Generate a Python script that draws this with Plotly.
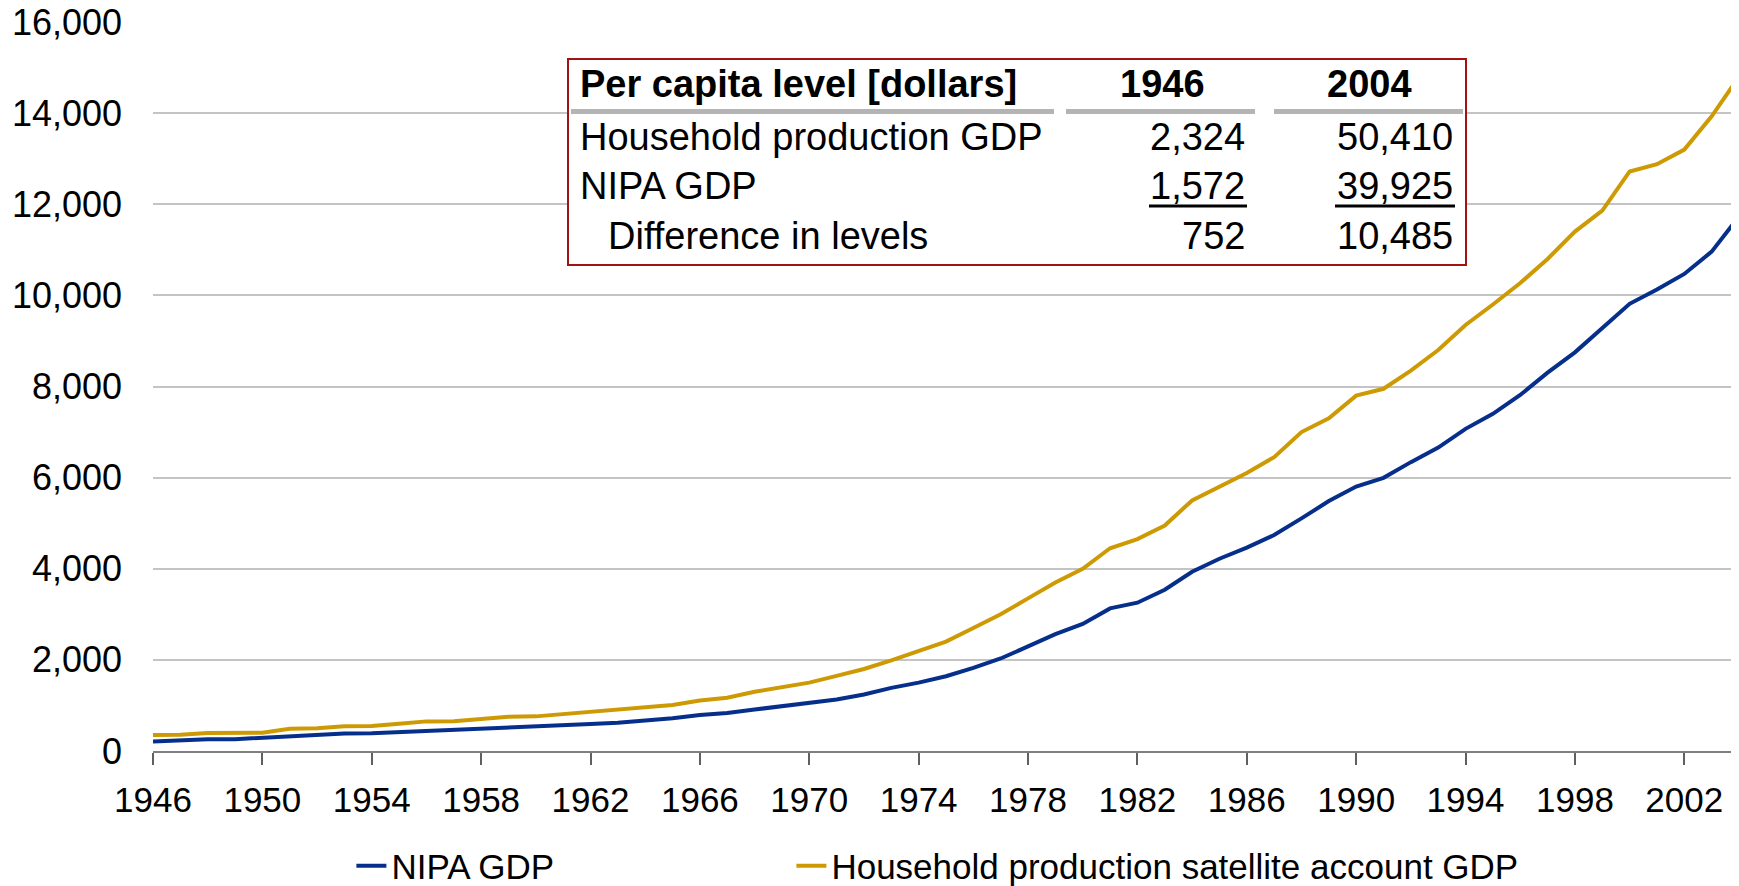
import plotly.graph_objects as go

years = list(range(1946, 2005))
nipa_gdp = [210, 245, 260, 260, 290, 340, 355, 385, 390, 415,
            440, 460, 470, 505, 530, 550, 590, 620, 665, 720,
            790, 835, 910, 985, 1040, 1130, 1240, 1385, 1500, 1640,
            1825, 2030, 2295, 2565, 2790, 3130, 3255, 3540, 3935, 4220,
            4465, 4740, 5105, 5485, 5805, 5995, 6340, 6660, 7070, 7400,
            7815, 8305, 8750, 9270, 9815, 10130, 10470, 10960, 11735]
hh_gdp = [350, 355, 395, 395, 400, 490, 500, 545, 550, 600,
          650, 655, 700, 750, 760, 810, 860, 900, 950, 1010,
          1110, 1170, 1300, 1400, 1500, 1650, 1800, 1990, 2190, 2400,
          2700, 3000, 3350, 3700, 4000, 4450, 4650, 4950, 5500, 5800,
          6100, 6450, 7000, 7300, 7800, 7950, 8350, 8800, 9350, 9800,
          10270, 10800, 11400, 11860, 12720, 12880, 13200, 13930, 14800]
series_names = ["NIPA GDP", "Household production satellite account GDP"]
x_ticks = list(range(1946, 2004, 4))

table_header = ["Per capita level [dollars]", "1946", "2004"]
table_rows = ["Household production GDP", "NIPA GDP", "Difference in levels"]
table_1946 = ["2,324", "1,572", "752"]
table_2004 = ["50,410", "39,925", "10,485"]

# page has an 8px body margin; figure sized to fit the window
OFF = 8
W, H = 1739 - OFF, 886 - OFF
ML, MR, MT, MB = 145, 0, 14, 135
PW, PH = W - ML - MR, H - MT - MB

def px(x):
    return (x - OFF - ML) / PW

def py(y):
    return (H - MB - (y - OFF)) / PH

FONT = "Liberation Sans, Arial, sans-serif"
BLUE = "#062F8C"
GOLD = "#CE9A04"

fig = go.Figure()
fig.add_trace(go.Scatter(x=years, y=nipa_gdp, mode="lines", name=series_names[0],
                         line=dict(color=BLUE, width=4), legend="legend"))
fig.add_trace(go.Scatter(x=years, y=hh_gdp, mode="lines", name=series_names[1],
                         line=dict(color=GOLD, width=4), legend="legend2"))

shapes = []
shapes.append(dict(type="rect", xref="paper", yref="paper",
                   x0=px(568), x1=px(1466), y0=py(265), y1=py(59),
                   line=dict(color="#A31212", width=2), fillcolor="white", layer="above"))
for a, b in [(571, 1054), (1066, 1255), (1274, 1463)]:
    shapes.append(dict(type="line", xref="paper", yref="paper",
                       x0=px(a), x1=px(b), y0=py(111.5), y1=py(111.5),
                       line=dict(color="#B4B4B4", width=5), layer="above"))
for a, b in [(1149, 1247), (1335, 1455)]:
    shapes.append(dict(type="line", xref="paper", yref="paper",
                       x0=px(a), x1=px(b), y0=py(206), y1=py(206),
                       line=dict(color="black", width=3), layer="above"))

ann = []
TF = 38
def add(text, x, y, anchor, bold=False):
    ann.append(dict(text=("<b>%s</b>" % text) if bold else text,
                    xref="paper", yref="paper", x=px(x), y=py(y),
                    xanchor=anchor, yanchor="middle", showarrow=False,
                    font=dict(family=FONT, size=TF, color="black")))

add(table_header[0], 578, 84, "left", True)
add(table_header[1], 1162, 84, "center", True)
add(table_header[2], 1369, 84, "center", True)
row_y = [137, 186, 236]
row_x = [578, 578, 606]
for i in range(3):
    add(table_rows[i], row_x[i], row_y[i], "left")
    add(table_1946[i], 1247, row_y[i], "right")
    add(table_2004[i], 1455, row_y[i], "right")

leg_common = dict(orientation="h", yanchor="middle", y=py(866), xanchor="left",
                  font=dict(family=FONT, size=35, color="black"),
                  bgcolor="rgba(0,0,0,0)", borderwidth=0)

fig.update_layout(
    width=W, height=H,
    template="plotly",
    margin=dict(l=ML, r=MR, t=MT, b=MB, autoexpand=False),
    paper_bgcolor="white", plot_bgcolor="white",
    font=dict(family=FONT, size=35, color="black"),
    showlegend=True,
    legend=dict(x=px(391.7 - 40.3), **leg_common),
    legend2=dict(x=px(831.7 - 40.3), **leg_common),
    shapes=shapes,
    annotations=ann,
    xaxis=dict(range=[1946, 2004], tickvals=x_ticks, ticktext=[str(v) for v in x_ticks],
               automargin=False,
               showgrid=False, zeroline=False, showline=True, linecolor="#7F7F7F", linewidth=2,
               ticks="outside", ticklen=12, tickwidth=1.5, tickcolor="#606060",
               ticklabelstandoff=5, ticklabeloverflow="allow",
               tickfont=dict(family=FONT, size=35, color="black")),
    yaxis=dict(range=[0, 16000], dtick=2000, tickformat=",", showgrid=True,
               automargin=False, ticklabeloverflow="allow",
               gridcolor="#C4C4C4", gridwidth=2, zeroline=False, showline=False,
               ticks="", ticklabelstandoff=30,
               tickfont=dict(family=FONT, size=36, color="black")),
)

fig.write_html("out.html")
